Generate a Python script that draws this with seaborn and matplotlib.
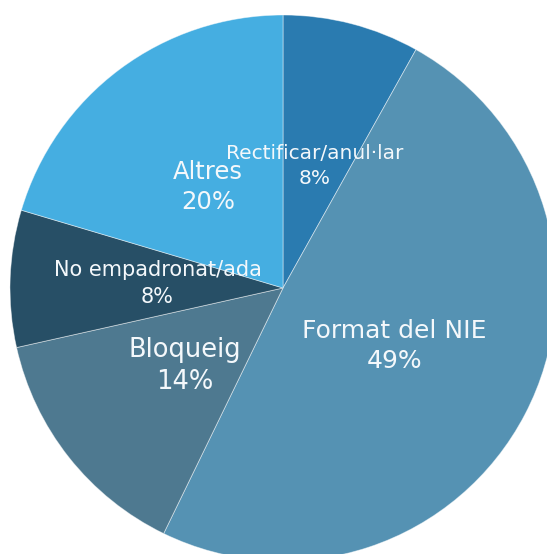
import matplotlib
matplotlib.use("Agg")
import matplotlib.pyplot as plt
import seaborn as sns

# slices, clockwise from the top
categories = ["Rectificar/anul·lar", "Format del NIE", "Bloqueig", "No empadronat/ada", "Altres"]
shares = [8.1, 49.1, 14.3, 8.1, 20.4]
colors = ["#2A7BB0", "#5592B3", "#4E7990", "#274F66", "#45AEE1"]
label_sizes = [14.5, 18, 18.5, 15, 17.5]

sns.set_theme(style="white")
plt.rcParams["font.family"] = ["DejaVu Sans"]

fig = plt.figure(figsize=(5.47, 5.54), dpi=100)
ax = fig.add_axes([0, 0, 1, 1])

names = iter(categories)


def fmt(pct):
    return f"{next(names)}\n{pct:.0f}%"


wedges, texts, autotexts = ax.pie(
    shares,
    colors=sns.color_palette(colors),
    startangle=90,
    counterclock=False,
    autopct=fmt,
    pctdistance=0.46,
    wedgeprops=dict(edgecolor=(1, 1, 1, 0.5), linewidth=0.6),
)
for t, size in zip(autotexts, label_sizes):
    t.set_color("#F4F8FB")
    t.set_fontsize(size)
    t.set_linespacing(1.4 if size < 16 else 1.3)

# pie centre at (283, 288) px, radius 273 px
r = 273
ax.set_xlim(-283 / r, (547 - 283) / r)
ax.set_ylim(-(554 - 288) / r, 288 / r)
ax.set_aspect("auto")
ax.axis("off")

fig.savefig("out.png", dpi=100)
